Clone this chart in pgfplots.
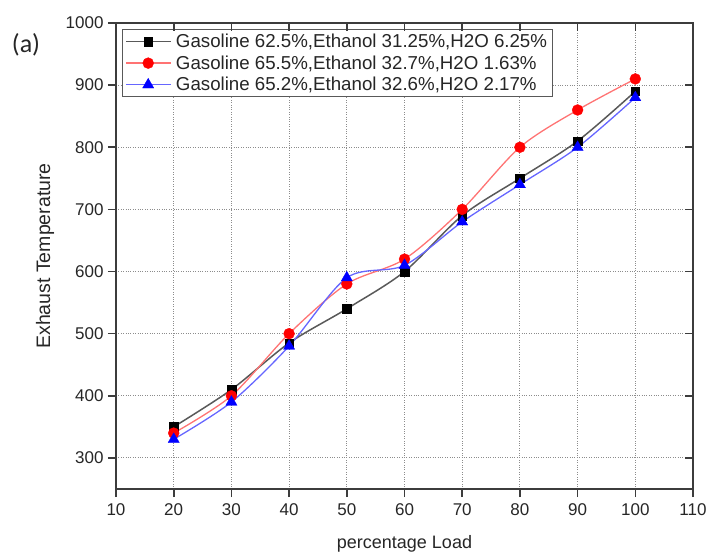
\documentclass[border=0pt]{standalone}
\usepackage{fontspec}
\setmainfont{Liberation Sans}
\newfontfamily\calib{Carlito}
\usepackage{pgfplots}
\pgfplotsset{compat=1.18}
\definecolor{axgray}{RGB}{60,60,60}
\begin{document}
\begin{tikzpicture}
\pgfplotsset{
  base/.style={
    width=577pt, height=466pt, scale only axis,
    at={(0pt,0pt)}, anchor=south west,
    xmin=10, xmax=110, ymin=250, ymax=1000,
    xtick={10,20,...,110}, ytick={300,400,...,1000},
    major tick length=8pt,
    every tick/.style={axgray, line width=1.6pt},
    axis line style={axgray, line width=1.8pt},
  }
}
\begin{axis}[base,
  tick align=outside, tick pos=left,
  grid=major,
  grid style={black!45, dotted, line width=0.9pt},
  /pgf/number format/assume math mode=true,
  /pgf/number format/1000 sep={},
  ticklabel style={font=\fontsize{17}{20}\selectfont, text=black!85},
  xticklabel style={yshift=-3pt},
  yticklabel style={xshift=-1pt},
  xlabel={percentage Load}, ylabel={Exhaust Temperature},
  xlabel style={font=\fontsize{18}{21}\selectfont, text=black!85,
    at={(axis description cs:0.5,-0.1275)}, anchor=base},
  ylabel style={font=\fontsize{19.5}{22}\selectfont, text=black!85,
    at={(axis description cs:-0.123,0.5)}, anchor=center},
  legend style={at={(rel axis cs:0.0104,0.9871)}, anchor=north west,
    font=\fontsize{18.7}{21}\selectfont, text=black!85, draw=black!65, line width=0.9pt,
    row sep=2.6pt, inner xsep=3pt, inner ysep=2.5pt,
    /tikz/every odd column/.append style={column sep=3pt}},
  legend cell align=left,
  legend image code/.code={\draw[#1] (0pt,0pt) -- (44pt,0pt); \draw[#1, mark repeat=2, mark phase=2] plot coordinates {(0pt,0pt) (22pt,0pt) (44pt,0pt)};},
]
\addplot[black!65, line width=1.5pt, smooth, tension=0.5,
  mark=square*, mark size=4.3pt, mark options={fill=black, draw=black, line width=0.3pt}]
  coordinates {(20,350) (30,410) (40,485) (50,540) (60,600) (70,690) (80,750) (90,810) (100,890)};
\addlegendentry{Gasoline 62.5\%,Ethanol 31.25\%,H2O 6.25\%}
\addplot[red!55, line width=1.3pt, smooth, tension=0.5,
  mark=*, mark size=5.5pt, mark options={fill=red, draw=red, line width=0.3pt}]
  coordinates {(20,340) (30,400) (40,500) (50,580) (60,620) (70,700) (80,800) (90,860) (100,910)};
\addlegendentry{Gasoline 65.5\%,Ethanol 32.7\%,H2O 1.63\%}
\addplot[blue!60, line width=1.3pt, smooth, tension=0.5,
  mark=triangle*, mark size=6.5pt, mark options={fill=blue, draw=blue, line width=0.3pt}]
  coordinates {(20,330) (30,390) (40,480) (50,590) (60,610) (70,680) (80,740) (90,800) (100,880)};
\addlegendentry{Gasoline 65.2\%,Ethanol 32.6\%,H2O 2.17\%}
\end{axis}
\begin{axis}[base, tick align=inside, tick pos=right,
  xticklabels={}, yticklabels={}]
\end{axis}
\node[anchor=center, font=\calib\fontsize{26}{30}\selectfont, text=black!85] at (-90pt,444pt) {(a)};
\pgfresetboundingbox
\useasboundingbox (-116pt,-65pt) rectangle (595pt,489pt);
\end{tikzpicture}
\end{document}
